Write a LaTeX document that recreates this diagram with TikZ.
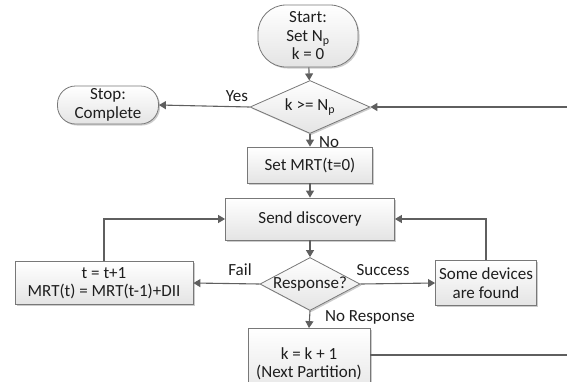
\documentclass[tikz,border=0pt]{standalone}
\usepackage{fontspec}
\setmainfont{Carlito}
\usetikzlibrary{shapes.geometric,arrows.meta,shadows}
\definecolor{linegray}{RGB}{95,95,95}
\definecolor{boxgray}{RGB}{120,120,120}
\definecolor{fillgray}{RGB}{228,228,228}
\definecolor{txt}{RGB}{30,30,30}
\begin{document}
\begin{tikzpicture}[x=1pt,y=-1pt,
  font=\fontsize{17}{18.5}\selectfont, text=txt,
  line/.style={draw=linegray, line width=1.1pt},
  arr/.style={line, -{Triangle[width=8pt,length=7pt]}},
  shade/.style={draw=boxgray, line width=0.8pt, top color=white, bottom color=fillgray,
    drop shadow={shadow xshift=1.5pt, shadow yshift=-1.5pt, opacity=0.2, fill=black}},
  box/.style={shade, rectangle, align=center, inner sep=0pt},
  term/.style={shade, rectangle, align=center, inner sep=0pt},
  dec/.style={shade, diamond, inner sep=0pt},
  lbl/.style={inner sep=0pt}
]
\useasboundingbox (0,0) rectangle (567,381);
\clip (0,0) rectangle (567,381);

\node[term, rounded corners=28pt, minimum width=100pt, minimum height=62pt] (start) at (308,36)
  {Start:\\Set N\textsubscript{p}\\k = 0};
\node[dec, minimum width=120pt, minimum height=53pt,
  label={[text=txt]center:k >= N\textsubscript{p}}] (d1) at (310,107) {};
\node[term, rounded corners=18pt, minimum width=101pt, minimum height=38pt] (stop) at (108,105)
  {Stop:\\Complete};
\node[box, minimum width=125pt, minimum height=36pt] (mrt) at (310,165) {Set MRT(t=0)};
\node[box, minimum width=169pt, minimum height=42pt] (send) at (310,219) {Send discovery};
\node[dec, minimum width=100pt, minimum height=53pt,
  label={[text=txt]center:Response?}] (resp) at (310,284) {};
\node[box, minimum width=178pt, minimum height=43pt] (left) at (104,283)
  {t = t+1\\MRT(t) = MRT(t-1)+DII};
\node[box, minimum width=101pt, minimum height=45pt] (right) at (486,283)
  {Some devices\\are found};
\node[box, minimum width=122pt, minimum height=71pt] (kbox) at (309,364)
  {k = k + 1\\(Next Partition)};

\coordinate (inR) at (567,107);
\coordinate (outR) at (567,355);

\draw[arr] (start) -- (d1);
\draw[arr] (d1.west) -- (stop.east);
\draw[arr] (inR) -- (d1.east);
\draw[arr] (d1) -- (mrt);
\draw[arr] (mrt) -- (send);
\draw[arr] (send) -- (resp);
\draw[arr] (resp.west) -- (left.east);
\draw[arr] (resp.east) -- (right.west);
\draw[arr] (left.north) |- (send.west);
\draw[arr] (right.north) |- (send.east);
\draw[arr] (resp.south) -- (kbox.north);
\draw[line] (outR -| kbox.east) -- (outR);

\node[lbl] (yes) at (237,96) {Yes};
\node[lbl] (no) at (329,142) {No};
\node[lbl] (fail) at (240,270) {Fail};
\node[lbl] (succ) at (383,270) {Success};
\node[lbl] (nores) at (370,317) {No Response};
\end{tikzpicture}
\end{document}
